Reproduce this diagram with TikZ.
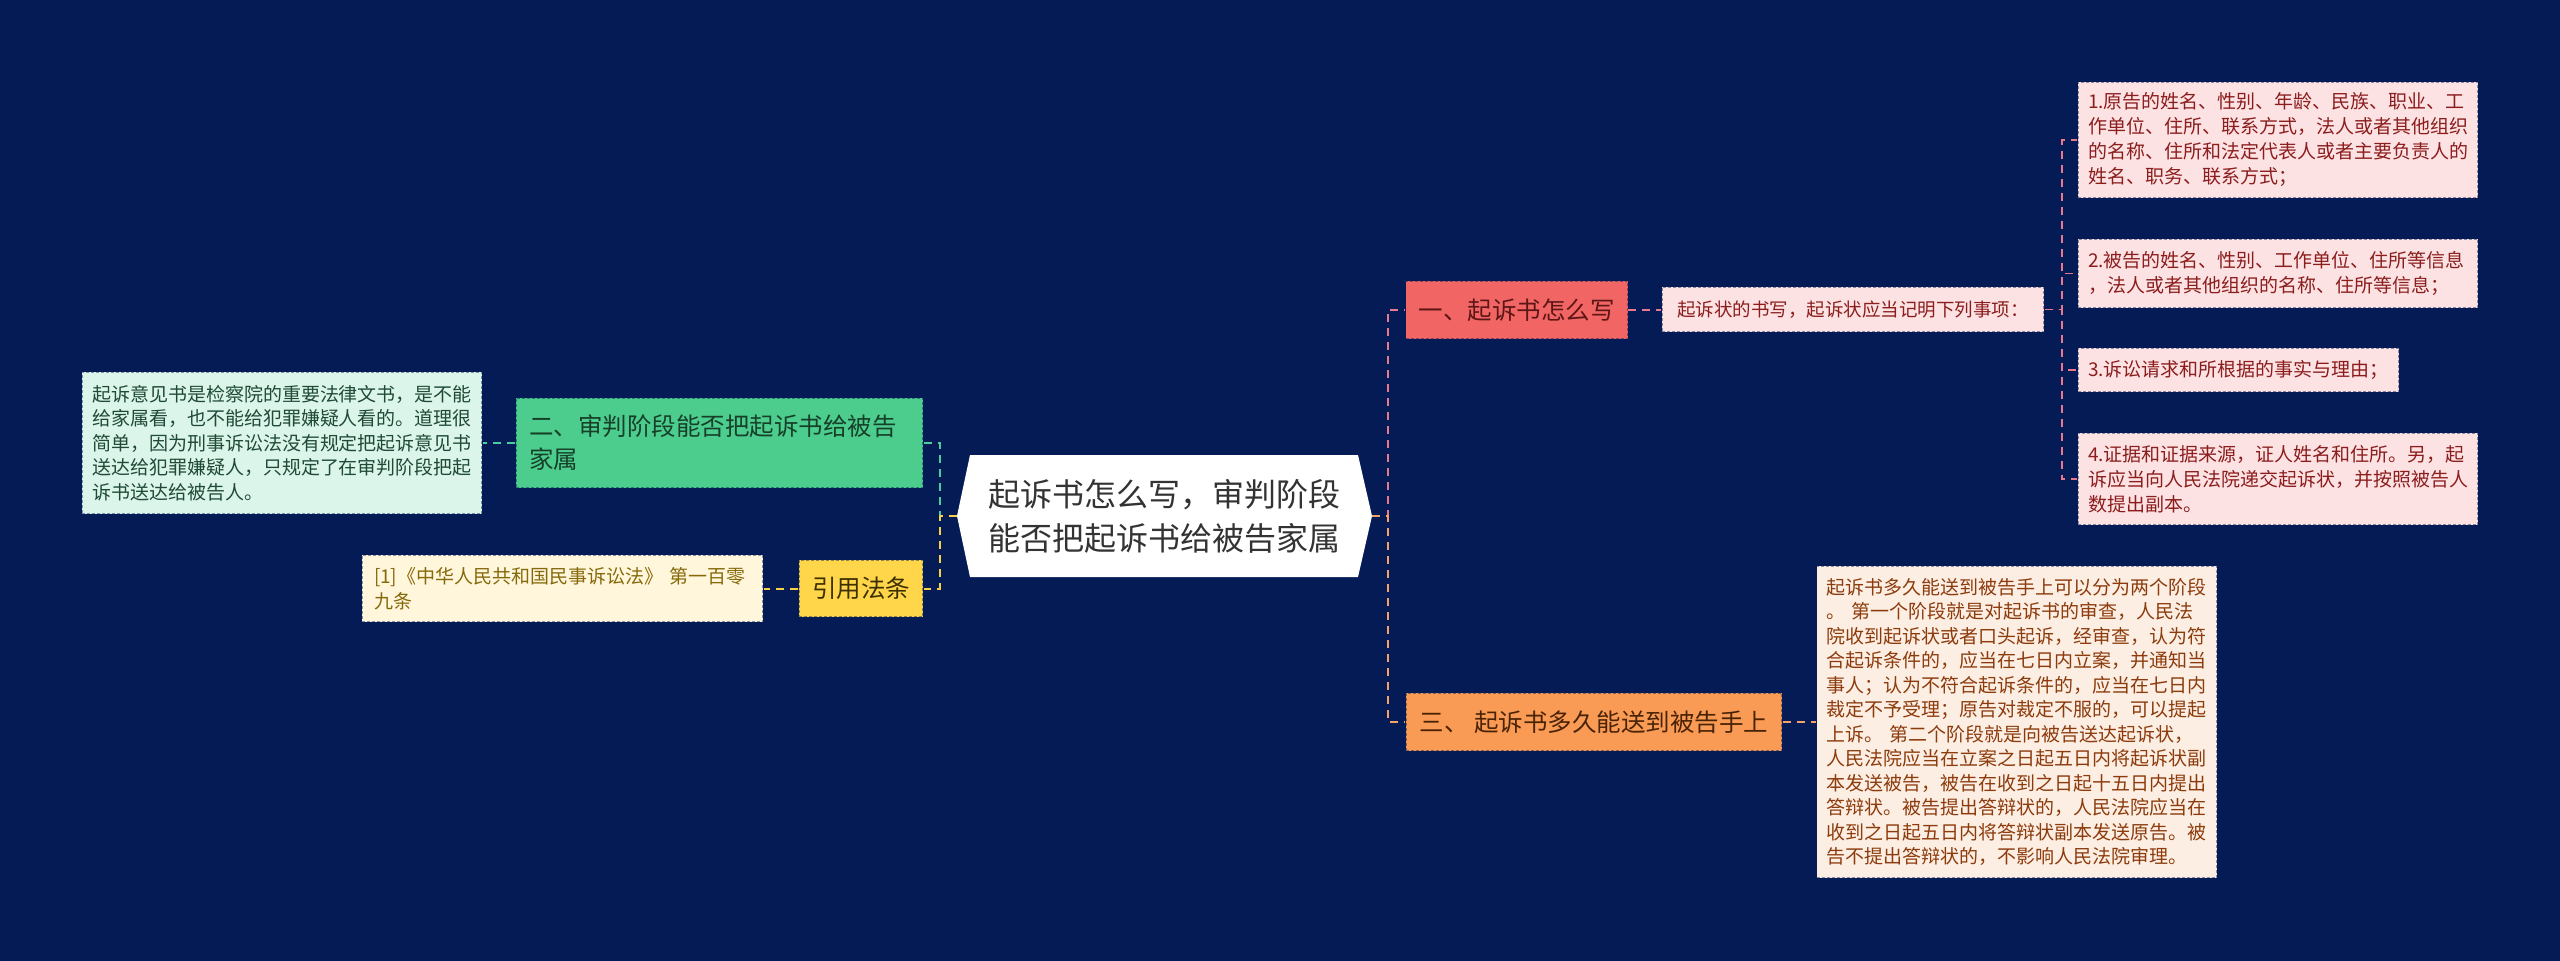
\documentclass[tikz,border=0pt]{standalone}
\usepackage{fontspec}
\setmainfont{Noto Sans CJK SC}

\definecolor{fond}{HTML}{041B56}
\definecolor{texteracine}{HTML}{333333}
\definecolor{rouge}{HTML}{F26565}
\definecolor{texterouge}{HTML}{5C1616}
\definecolor{rosepale}{HTML}{FDE2E3}
\definecolor{texterose}{HTML}{8B1D1D}
\definecolor{lienrose}{HTML}{E8788D}
\definecolor{orangevif}{HTML}{F99B55}
\definecolor{texteorange}{HTML}{4A2306}
\definecolor{peche}{HTML}{FDEEE3}
\definecolor{textepeche}{HTML}{8C3B0C}
\definecolor{lienorange}{HTML}{F4A26A}
\definecolor{vert}{HTML}{4CCD8D}
\definecolor{textevert}{HTML}{17402A}
\definecolor{menthe}{HTML}{DCF5EA}
\definecolor{textementhe}{HTML}{1F4A36}
\definecolor{lienvert}{HTML}{4FCBA0}
\definecolor{jaune}{HTML}{FFD54A}
\definecolor{textejaune}{HTML}{3D3000}
\definecolor{creme}{HTML}{FFF6DB}
\definecolor{texteolive}{HTML}{86690A}
\definecolor{lienjaune}{HTML}{F5D04A}

\begin{document}
\begin{tikzpicture}[
x=1pt,y=-1pt,
boite/.style={rectangle,fill=#1,draw=fond,draw opacity=0.45,line width=1.4pt,dash pattern=on 3pt off 2pt,inner xsep=10pt,inner ysep=0pt,align=left},
sujet/.style={font=\fontsize{24.5}{33}\selectfont,inner xsep=13pt},
detail/.style={font=\fontsize{19}{24.5}\selectfont},
lien/.style={line width=2pt,dash pattern=on 8pt off 6pt}
]

% Fond
\fill[fond]
(0,0)
rectangle
(2560,961);
\useasboundingbox (0,0) rectangle (2560,961);

% Racine
\fill[white]
(957,516)
-- (970,455)
-- (1358,455)
-- (1372,516)
-- (1358,577)
-- (970,577)
-- cycle;

\node[font=\fontsize{32}{44}\selectfont,text=texteracine,minimum width=415pt,minimum height=122pt,inner sep=0pt,align=center]
(racine)
at (1164.5,516)
{起诉书怎么写，审判阶段\\能否把起诉书给被告家属};

% Branche un
\node[boite=rouge,sujet,text=texterouge,minimum width=221pt,minimum height=58pt]
(un)
at (1516.5,310)
{一、起诉书怎么写};

\node[boite=rosepale,font=\fontsize{18.5}{24}\selectfont,text=texterose,minimum width=382pt,minimum height=45pt]
(ecrit)
at (1853,309.5)
{起诉状的书写，起诉状应当记明下列事项：};

\node[boite=rosepale,detail,text=texterose,text width=380pt,minimum height=116pt,font=\fontsize{19}{25}\selectfont]
(item1)
at (2278,140)
{1.原告的姓名、性别、年龄、民族、职业、工\\作单位、住所、联系方式，法人或者其他组织\\的名称、住所和法定代表人或者主要负责人的\\姓名、职务、联系方式；};

\node[boite=rosepale,detail,text=texterose,text width=380pt,minimum height=69pt,font=\fontsize{19}{25}\selectfont]
(item2)
at (2278,273.5)
{2.被告的姓名、性别、工作单位、住所等信息\\，法人或者其他组织的名称、住所等信息；};

\node[boite=rosepale,detail,text=texterose,minimum width=321pt,minimum height=44pt]
(item3)
at (2238.5,370)
{3.诉讼请求和所根据的事实与理由；};

\node[boite=rosepale,detail,text=texterose,text width=380pt,minimum height=92pt,font=\fontsize{19}{25}\selectfont]
(item4)
at (2278,479)
{4.证据和证据来源，证人姓名和住所。另，起\\诉应当向人民法院递交起诉状，并按照被告人\\数提出副本。};

% Branche deux
\node[boite=vert,sujet,text=textevert,text width=381pt,minimum height=90pt]
(deux)
at (719.5,443)
{二、审判阶段能否把起诉书给被告\\家属};

\node[boite=menthe,detail,text=textementhe,text width=380pt,minimum height=142pt]
(avis)
at (282,443)
{起诉意见书是检察院的重要法律文书，是不能\\给家属看，也不能给犯罪嫌疑人看的。道理很\\简单，因为刑事诉讼法没有规定把起诉意见书\\送达给犯罪嫌疑人，只规定了在审判阶段把起\\诉书送达给被告人。};

% Branche trois
\node[boite=orangevif,sujet,text=texteorange,minimum width=376pt,minimum height=58pt]
(trois)
at (1594,722)
{三、 起诉书多久能送到被告手上};

\node[boite=peche,detail,text=textepeche,text width=380pt,minimum height=312pt]
(delai)
at (2016.5,722)
{起诉书多久能送到被告手上可以分为两个阶段\\。 第一个阶段就是对起诉书的审查，人民法\\院收到起诉状或者口头起诉，经审查，认为符\\合起诉条件的，应当在七日内立案，并通知当\\事人；认为不符合起诉条件的，应当在七日内\\裁定不予受理；原告对裁定不服的，可以提起\\上诉。 第二个阶段就是向被告送达起诉状，\\人民法院应当在立案之日起五日内将起诉状副\\本发送被告，被告在收到之日起十五日内提出\\答辩状。被告提出答辩状的，人民法院应当在\\收到之日起五日内将答辩状副本发送原告。被\\告不提出答辩状的，不影响人民法院审理。};

% Loi citee
\node[boite=jaune,sujet,text=textejaune,minimum width=124pt,minimum height=57pt]
(ref)
at (861,588.5)
{引用法条};

\node[boite=creme,detail,text=texteolive,text width=377pt,inner xsep=12pt,minimum height=67pt]
(loi)
at (562.5,588.5)
{[1]《中华人民共和国民事诉讼法》 第一百零\\九条};

% Liens
\draw[lien,lienrose]
(racine.east)
-- ++(16,0)
|- (un.west);

\draw[lien,lienorange]
(racine.east)
-- ++(16,0)
|- (trois.west);

\draw[lien,lienvert]
(racine.west)
-- ++(-17,0)
|- (deux.east);

\draw[lien,lienjaune]
(racine.west)
-- ++(-17,0)
|- (ref.east);

\draw[lien,lienrose]
(un.east)
-- (un.east -| ecrit.west);

\foreach \i in {1,...,4}
\draw[lien,lienrose,line width=1.6pt]
(ecrit.east)
-- ++(17,0)
|- (item\i.west);

\draw[lien,lienorange]
(trois.east)
-- (trois.east -| delai.west);

\draw[lien,lienvert]
(deux.west)
-- (deux.west -| avis.east);

\draw[lien,lienjaune]
(ref.west)
-- (ref.west -| loi.east);

\end{tikzpicture}
\end{document}
